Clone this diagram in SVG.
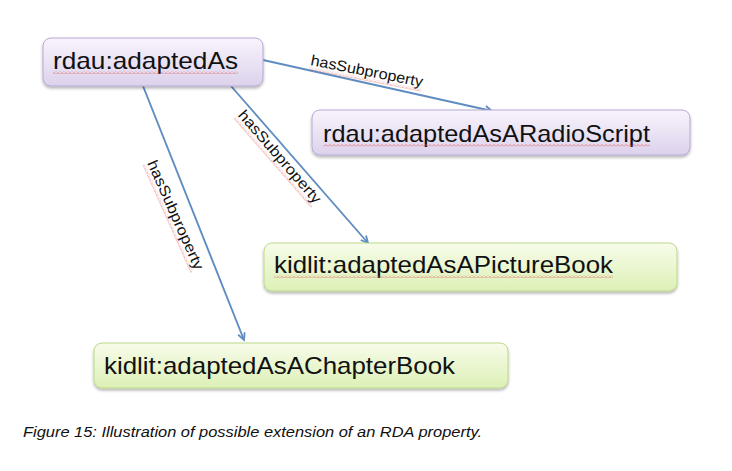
<svg xmlns="http://www.w3.org/2000/svg" width="732" height="471" viewBox="0 0 732 471">
<style>
.nt{font-family:"Liberation Sans",Arial,sans-serif;font-size:24px;fill:#111}
.lb{font-family:"Liberation Sans",Arial,sans-serif;font-size:15px;fill:#111}
.cap{font-family:"Liberation Sans",Arial,sans-serif;font-size:14.5px;font-style:italic;fill:#111}
.edge{stroke:#5f8dc0;stroke-width:1.9;fill:none}
.purple{fill:url(#gp);stroke:#b8a8d4;stroke-width:1}
.green{fill:url(#gg);stroke:#bcd98a;stroke-width:1}
</style>
<defs>
<linearGradient id="gp" x1="0" y1="0" x2="0" y2="1">
<stop offset="0" stop-color="#f8f4fc"/>
<stop offset="1" stop-color="#dcd2ec"/>
</linearGradient>
<linearGradient id="gg" x1="0" y1="0" x2="0" y2="1">
<stop offset="0" stop-color="#f7fcea"/>
<stop offset="1" stop-color="#ddf0b6"/>
</linearGradient>
<filter id="sh" x="-5%" y="-10%" width="110%" height="130%">
<feGaussianBlur in="SourceAlpha" stdDeviation="1.5"/>
<feOffset dx="0" dy="2" result="b"/>
<feComponentTransfer><feFuncA type="linear" slope="0.3"/></feComponentTransfer>
<feMerge><feMergeNode/><feMergeNode in="SourceGraphic"/></feMerge>
</filter>
<marker id="ah" markerWidth="10" markerHeight="10" refX="8" refY="5" orient="auto" markerUnits="userSpaceOnUse">
<path d="M1,1.5 L8,5 L1,8.5" fill="none" stroke="#5f8dc0" stroke-width="1.8"/>
</marker>
<pattern id="wv" width="4" height="3" patternUnits="userSpaceOnUse">
<path d="M0,2.5 L2,0.5 L4,2.5" fill="none" stroke="#e06060" stroke-width="0.7"/>
</pattern>
</defs>

<g id="connectors">
<line class="edge" x1="263" y1="60" x2="492" y2="111" marker-end="url(#ah)"/>
<line class="edge" x1="231" y1="86" x2="368" y2="243" marker-end="url(#ah)"/>
<line class="edge" x1="143" y1="86" x2="244" y2="340" marker-end="url(#ah)"/>
<g transform="translate(366,76) rotate(11)">
<text class="lb" x="0" y="0" text-anchor="middle" textLength="114" lengthAdjust="spacingAndGlyphs">hasSubproperty</text>
<rect x="-57" y="2" width="114" height="3" fill="url(#wv)"/>
</g>
<g transform="translate(276,160) rotate(49)">
<text class="lb" x="0" y="0" text-anchor="middle" textLength="118" lengthAdjust="spacingAndGlyphs">hasSubproperty</text>
<rect x="-59" y="2" width="118" height="3" fill="url(#wv)"/>
</g>
<g transform="translate(171,217) rotate(66)">
<text class="lb" x="0" y="0" text-anchor="middle" textLength="118" lengthAdjust="spacingAndGlyphs">hasSubproperty</text>
<rect x="-59" y="2" width="118" height="3" fill="url(#wv)"/>
</g>
</g>

<g id="node-adaptedAs">
<rect class="purple" x="43" y="38" width="220" height="48" rx="8" filter="url(#sh)"/>
<text class="nt" x="53" y="69" textLength="185" lengthAdjust="spacingAndGlyphs">rdau:adaptedAs</text>
<rect x="53" y="71" width="185" height="3" fill="url(#wv)"/>
</g>

<g id="node-radioScript">
<rect class="purple" x="312" y="110" width="378" height="45" rx="8" filter="url(#sh)"/>
<text class="nt" x="323" y="142" textLength="327" lengthAdjust="spacingAndGlyphs">rdau:adaptedAsARadioScript</text>
<rect x="323" y="144" width="327" height="3" fill="url(#wv)"/>
</g>

<g id="node-pictureBook">
<rect class="green" x="264" y="243" width="413" height="48" rx="8" filter="url(#sh)"/>
<text class="nt" x="274" y="273" textLength="339" lengthAdjust="spacingAndGlyphs">kidlit:adaptedAsAPictureBook</text>
<rect x="274" y="275" width="339" height="3" fill="url(#wv)"/>
</g>

<g id="node-chapterBook">
<rect class="green" x="94" y="343" width="414" height="45" rx="8" filter="url(#sh)"/>
<text class="nt" x="104" y="374" textLength="351" lengthAdjust="spacingAndGlyphs">kidlit:adaptedAsAChapterBook</text>
</g>

<text class="cap" x="23" y="437" textLength="459" lengthAdjust="spacingAndGlyphs">Figure 15: Illustration of possible extension of an RDA property.</text>
</svg>
